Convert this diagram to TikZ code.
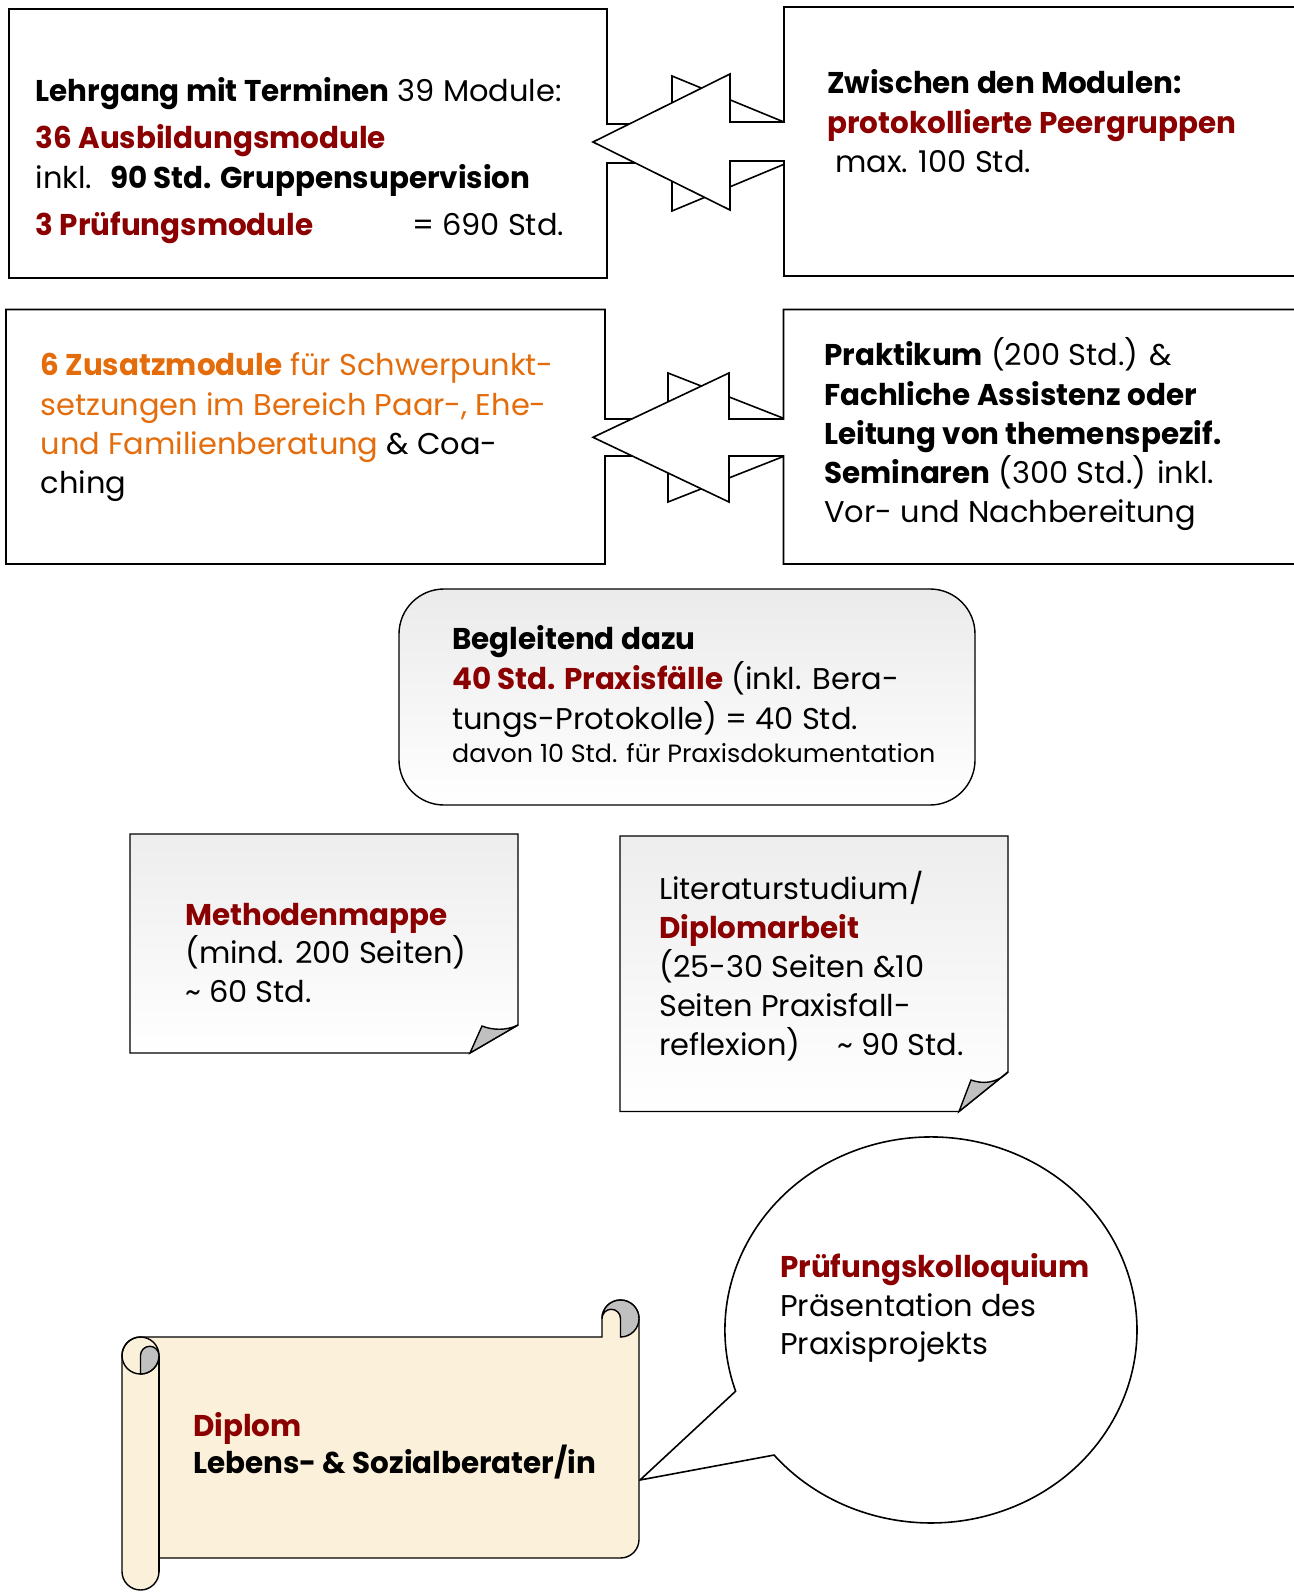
\documentclass[tikz,border=0pt]{standalone}
\usepackage{fontspec}
\setmainfont{Poppins}[UprightFeatures={FakeStretch=1.015},BoldFeatures={FakeStretch=0.98}]
\definecolor{dred}{RGB}{139,0,0}
\definecolor{orng}{RGB}{228,108,10}
\definecolor{parch}{RGB}{251,240,217}
\definecolor{curlgray}{RGB}{192,192,192}
\begin{document}
\begin{tikzpicture}[x=1pt,y=-1pt,line join=miter,
  outl/.style={draw=black,line width=1.6pt,fill=white},
  thin/.style={draw=black,line width=1.4pt},
  txt/.style={anchor=base west,inner sep=0pt,font=\fontsize{30}{38}\selectfont},
  smalltxt/.style={anchor=base west,inner sep=0pt,font=\fontsize{25}{30}\selectfont}]
\useasboundingbox (0,0) rectangle (1293,1592);
\fill[white] (0,0) rectangle (1293,1592);

% ---- row 1 callouts
\draw[outl] (9,9) -- (607,9) -- (607,124) -- (672,124) -- (672,76) -- (835,143) -- (672,211) -- (672,163) -- (607,163) -- (607,278) -- (9,278) -- cycle;
\draw[outl] (1300,7) -- (784,7) -- (784,122) -- (730,122) -- (730,74) -- (593,142) -- (730,210) -- (730,161) -- (784,161) -- (784,276) -- (1300,276);
% ---- row 2 callouts
\draw[outl] (6,309.5) -- (605,309.5) -- (605,419) -- (668,419) -- (668,373) -- (832,437.3) -- (668,502) -- (668,456) -- (605,456) -- (605,564) -- (6,564) -- cycle;
\draw[outl] (1300,309.5) -- (783.5,309.5) -- (783.5,419) -- (729,419) -- (729,373) -- (593,437.3) -- (729,502) -- (729,456) -- (783.5,456) -- (783.5,564) -- (1300,564);

% ---- rounded box
\shade[top color=black!8,bottom color=white,rounded corners=45] (399,589) rectangle (975,805);
\draw[thin,rounded corners=45] (399,589) rectangle (975,805);

% ---- notes with folded corner
\shade[top color=black!7,bottom color=white] (130,834) -- (518,834) -- (518,1025) -- (470,1053) -- (130,1053) -- cycle;
\draw[thin] (130,834) -- (518,834) -- (518,1025) -- (470,1053) -- (130,1053) -- cycle;
\draw[thin,fill=curlgray] (470,1053) -- (482,1026) .. controls (492,1030) and (506,1031) .. (518,1025) -- cycle;

\shade[top color=black!7,bottom color=white] (620,836) -- (1008,836) -- (1008,1072) -- (959,1111.5) -- (620,1111.5) -- cycle;
\draw[thin] (620,836) -- (1008,836) -- (1008,1072) -- (959,1111.5) -- (620,1111.5) -- cycle;
\draw[thin,fill=curlgray] (959,1111.5) -- (971,1080) .. controls (982,1084) and (996,1084) .. (1008,1072) -- cycle;

% ---- speech bubble
\draw[outl] (735.6,1391.2) arc[start angle=161.5,end angle=499.6,x radius=206,y radius=193] -- (640,1480) -- cycle;

% ---- scroll
\draw[thin,fill=parch] (140.5,1337) -- (602,1337) -- (602,1318.5)
   arc[start angle=180,end angle=360,radius=18.5] -- (639,1539.5)
   arc[start angle=0,end angle=90,radius=18.5] -- (159,1558) -- (159,1571.5)
   arc[start angle=0,end angle=180,radius=18.5] -- (122,1355.5)
   arc[start angle=180,end angle=270,radius=18.5] -- cycle;
\draw[thin] (159,1355.5) -- (159,1571.5);
\draw[thin] (140.5,1355.5) circle[radius=18.5];
\draw[thin,fill=curlgray] (140.5,1355.5) arc[start angle=180,end angle=360,radius=9.25]
   arc[start angle=0,end angle=90,radius=18.5] -- cycle;
\draw[thin,fill=curlgray] (620.5,1337) arc[start angle=90,end angle=-180,radius=18.5]
   arc[start angle=180,end angle=360,radius=9.25] -- cycle;

% ---- texts box 1
\node[txt] (t1a) at (35.5,101.5) {\textbf{Lehrgang mit Terminen} 39 Module:};
\node[txt,text=dred] (t1b) at (35.5,148) {\textbf{36 Ausbildungsmodule}};
\node[txt] (t1c) at (35.5,188) {inkl.\hspace{0.6em}\textbf{90 Std. Gruppensupervision}};
\node[txt,text=dred] (t1d) at (35.5,235.5) {\textbf{3 Prüfungsmodule}};
\node[txt] (t1e) at (412,235.5) {= 690 Std.};

% ---- texts box 2
\node[txt] (t2a) at (827,93.5) {\textbf{Zwischen den Modulen:}};
\node[txt,text=dred] (t2b) at (827,133) {\textbf{protokollierte Peergruppen}};
\node[txt] (t2c) at (835,172.5) {max. 100 Std.};

% ---- texts box 3
\node[txt,text=orng] (t3a) at (40.5,375.5) {\textbf{6 Zusatzmodule} für Schwerpunkt-};
\node[txt,text=orng] (t3b) at (40.5,415) {setzungen im Bereich Paar-, Ehe-};
\node[txt] (t3c) at (40.5,454.5) {\textcolor{orng}{und Familienberatung} \& Coa-};
\node[txt] (t3d) at (40.5,493) {ching};

% ---- texts box 4
\node[txt] (t4a) at (824,365.5) {\textbf{Praktikum} (200 Std.) \&};
\node[txt] (t4b) at (824,405) {\textbf{Fachliche Assistenz oder}};
\node[txt] (t4c) at (824,444) {\textbf{Leitung von themenspezif.}};
\node[txt] (t4d) at (824,483) {\textbf{Seminaren} (300 Std.) inkl.};
\node[txt] (t4e) at (824,522) {Vor- und Nachbereitung};

% ---- rounded box texts
\node[txt] (t5a) at (452,649.5) {\textbf{Begleitend dazu}};
\node[txt] (t5b) at (452,689) {\textcolor{dred}{\textbf{40 Std. Praxisfälle}} (inkl. Bera-};
\node[txt] (t5c) at (452,729) {tungs-Protokolle) = 40 Std.};
\node[smalltxt] (t5d) at (452,762) {davon 10 Std. für Praxisdokumentation};

% ---- notes texts
\node[txt,text=dred] (t6a) at (185,925) {\textbf{Methodenmappe}};
\node[txt] (t6b) at (185,963.5) {(mind. 200 Seiten)};
\node[txt] (t6c) at (185,1002) {\textasciitilde{} 60 Std.};

\node[txt] (t7a) at (659,899) {Literaturstudium/};
\node[txt,text=dred] (t7b) at (659,938.5) {\textbf{Diplomarbeit}};
\node[txt] (t7c) at (659,977.5) {(25-30 Seiten \&10};
\node[txt] (t7d) at (659,1016.5) {Seiten Praxisfall-};
\node[txt] (t7e) at (659,1055.5) {reflexion)};
\node[txt] (t7f) at (837,1055.5) {\textasciitilde{} 90 Std.};

% ---- bubble texts
\node[txt,text=dred] (t8a) at (780,1277) {\textbf{Prüfungskolloquium}};
\node[txt] (t8b) at (780,1316) {Präsentation des};
\node[txt] (t8c) at (780,1354.5) {Praxisprojekts};

% ---- scroll texts
\node[txt,text=dred] (t9a) at (193,1436) {\textbf{Diplom}};
\node[txt] (t9b) at (193,1473) {\textbf{Lebens- \& Sozialberater/in}};
\end{tikzpicture}
\end{document}
